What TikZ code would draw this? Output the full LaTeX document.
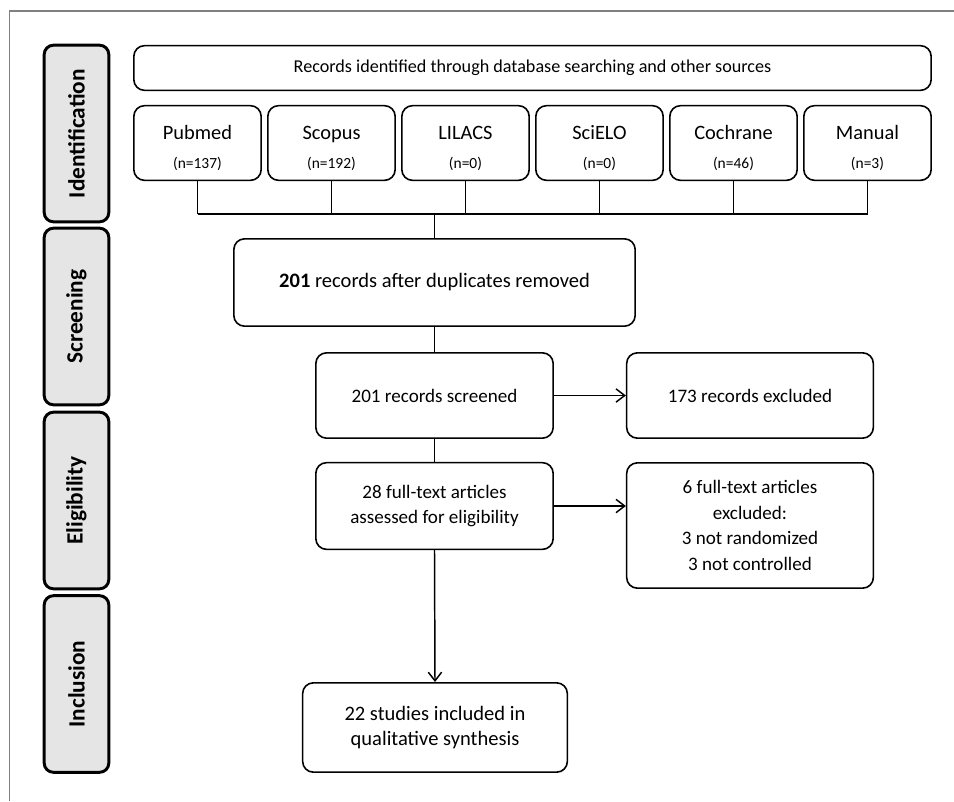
\documentclass[tikz,border=0pt]{standalone}
\usepackage{fontspec}
\setmainfont{Carlito}
\usetikzlibrary{arrows.meta}
\newcommand{\cnt}[1]{{\fontsize{11.6}{13}\selectfont #1}}
\newcommand{\dbname}[2]{\rule{0pt}{18.6pt}#1\\\cnt{#2}}

\begin{document}
\begin{tikzpicture}[x=0.75pt,y=-0.75pt,
    stage/.style={draw,line width=2.2pt,fill=black!10,rounded corners=7pt,
      minimum width=132.5pt,minimum height=48.5pt,inner sep=0pt,rotate=90,
      font=\fontsize{17.5}{20}\selectfont\bfseries},
    box/.style={draw,line width=1.2pt,rounded corners=8pt,inner sep=0pt,align=center,
      font=\fontsize{14.3}{19.2}\selectfont},
    big/.style={font=\fontsize{15.4}{19}\selectfont},
    src/.style={box,minimum width=95.5pt,minimum height=56pt,
      font=\fontsize{15.3}{21.75}\selectfont},
    link/.style={line width=1.1pt},
    flow/.style={line width=1.1pt,-{Straight Barb[length=6.5pt,width=10pt]}}]

      \useasboundingbox (0,0) rectangle (954,801);
      \draw[black!50,line width=0.8pt] (954,11) -- (9.5,11) -- (9.5,801);

      \begin{scope}[every node/.style={stage}]
        \node (ident) at (76.5,133.5) {Identification};
        \node (screen) at (76.5,316.5) {Screening};
        \node (elig) at (76.5,500.5) {Eligibility};
        \node (incl) at (76.5,684) {Inclusion};
      \end{scope}

      \node[box,minimum width=598pt,minimum height=33.5pt,font=\fontsize{13.6}{16}\selectfont]
        (recs) at (532.5,68)
        {Records identified through database searching and other sources};

      \node[src] (s1) at (197.5,143) {\dbname{Pubmed}{(n=137)}};
      \node[src] (s2) at (331.5,143) {\dbname{Scopus}{(n=192)}};
      \node[src] (s3) at (465.5,143) {\dbname{LILACS}{(n=0)}};
      \node[src] (s4) at (599.5,143) {\dbname{SciELO}{(n=0)}};
      \node[src] (s5) at (733.5,143) {\dbname{Cochrane}{(n=46)}};
      \node[src] (s6) at (867.5,143) {\dbname{Manual}{(n=3)}};

      \coordinate (bus) at (434.5,214);

      \node[box,big,minimum width=301pt,minimum height=65.5pt] (dup) at (434.5,282.5)
        {\textbf{201} records after duplicates removed};
      \node[box,minimum width=178pt,minimum height=64pt] (scr) at (434.5,395.5)
        {201 records screened};
      \node[box,minimum width=185pt,minimum height=64pt] (ex1) at (750,395.5)
        {173 records excluded};
      \node[box,minimum width=178pt,minimum height=65pt] (full) at (434.5,506)
        {28 full-text articles\\assessed for eligibility};
      \node[box,minimum width=185pt,minimum height=94pt] (ex2) at (750,525.5)
        {6 full-text articles\\excluded:\\3 not randomized\\3 not controlled};
      \node[box,big,minimum width=198.5pt,minimum height=67pt] (syn) at (435,727.5)
        {22 studies included in\\qualitative synthesis};

      \foreach \i in {1,...,6}
        \draw[link] (s\i.south) -- (s\i.south |- bus);
      \draw[link] (s1.south |- bus) -- (s6.south |- bus);
      \draw[link] (bus) -- (dup.north);
      \draw[link] (dup.south) -- (scr.north);
      \draw[link] (scr.south) -- (full.north);

      \draw[flow] (scr.east) -- (ex1.west);
      \draw[flow] (full.east) -- (full.east -| ex2.west);
      \draw[flow] (full.south) -- (syn.north);

    \end{tikzpicture}
\end{document}
